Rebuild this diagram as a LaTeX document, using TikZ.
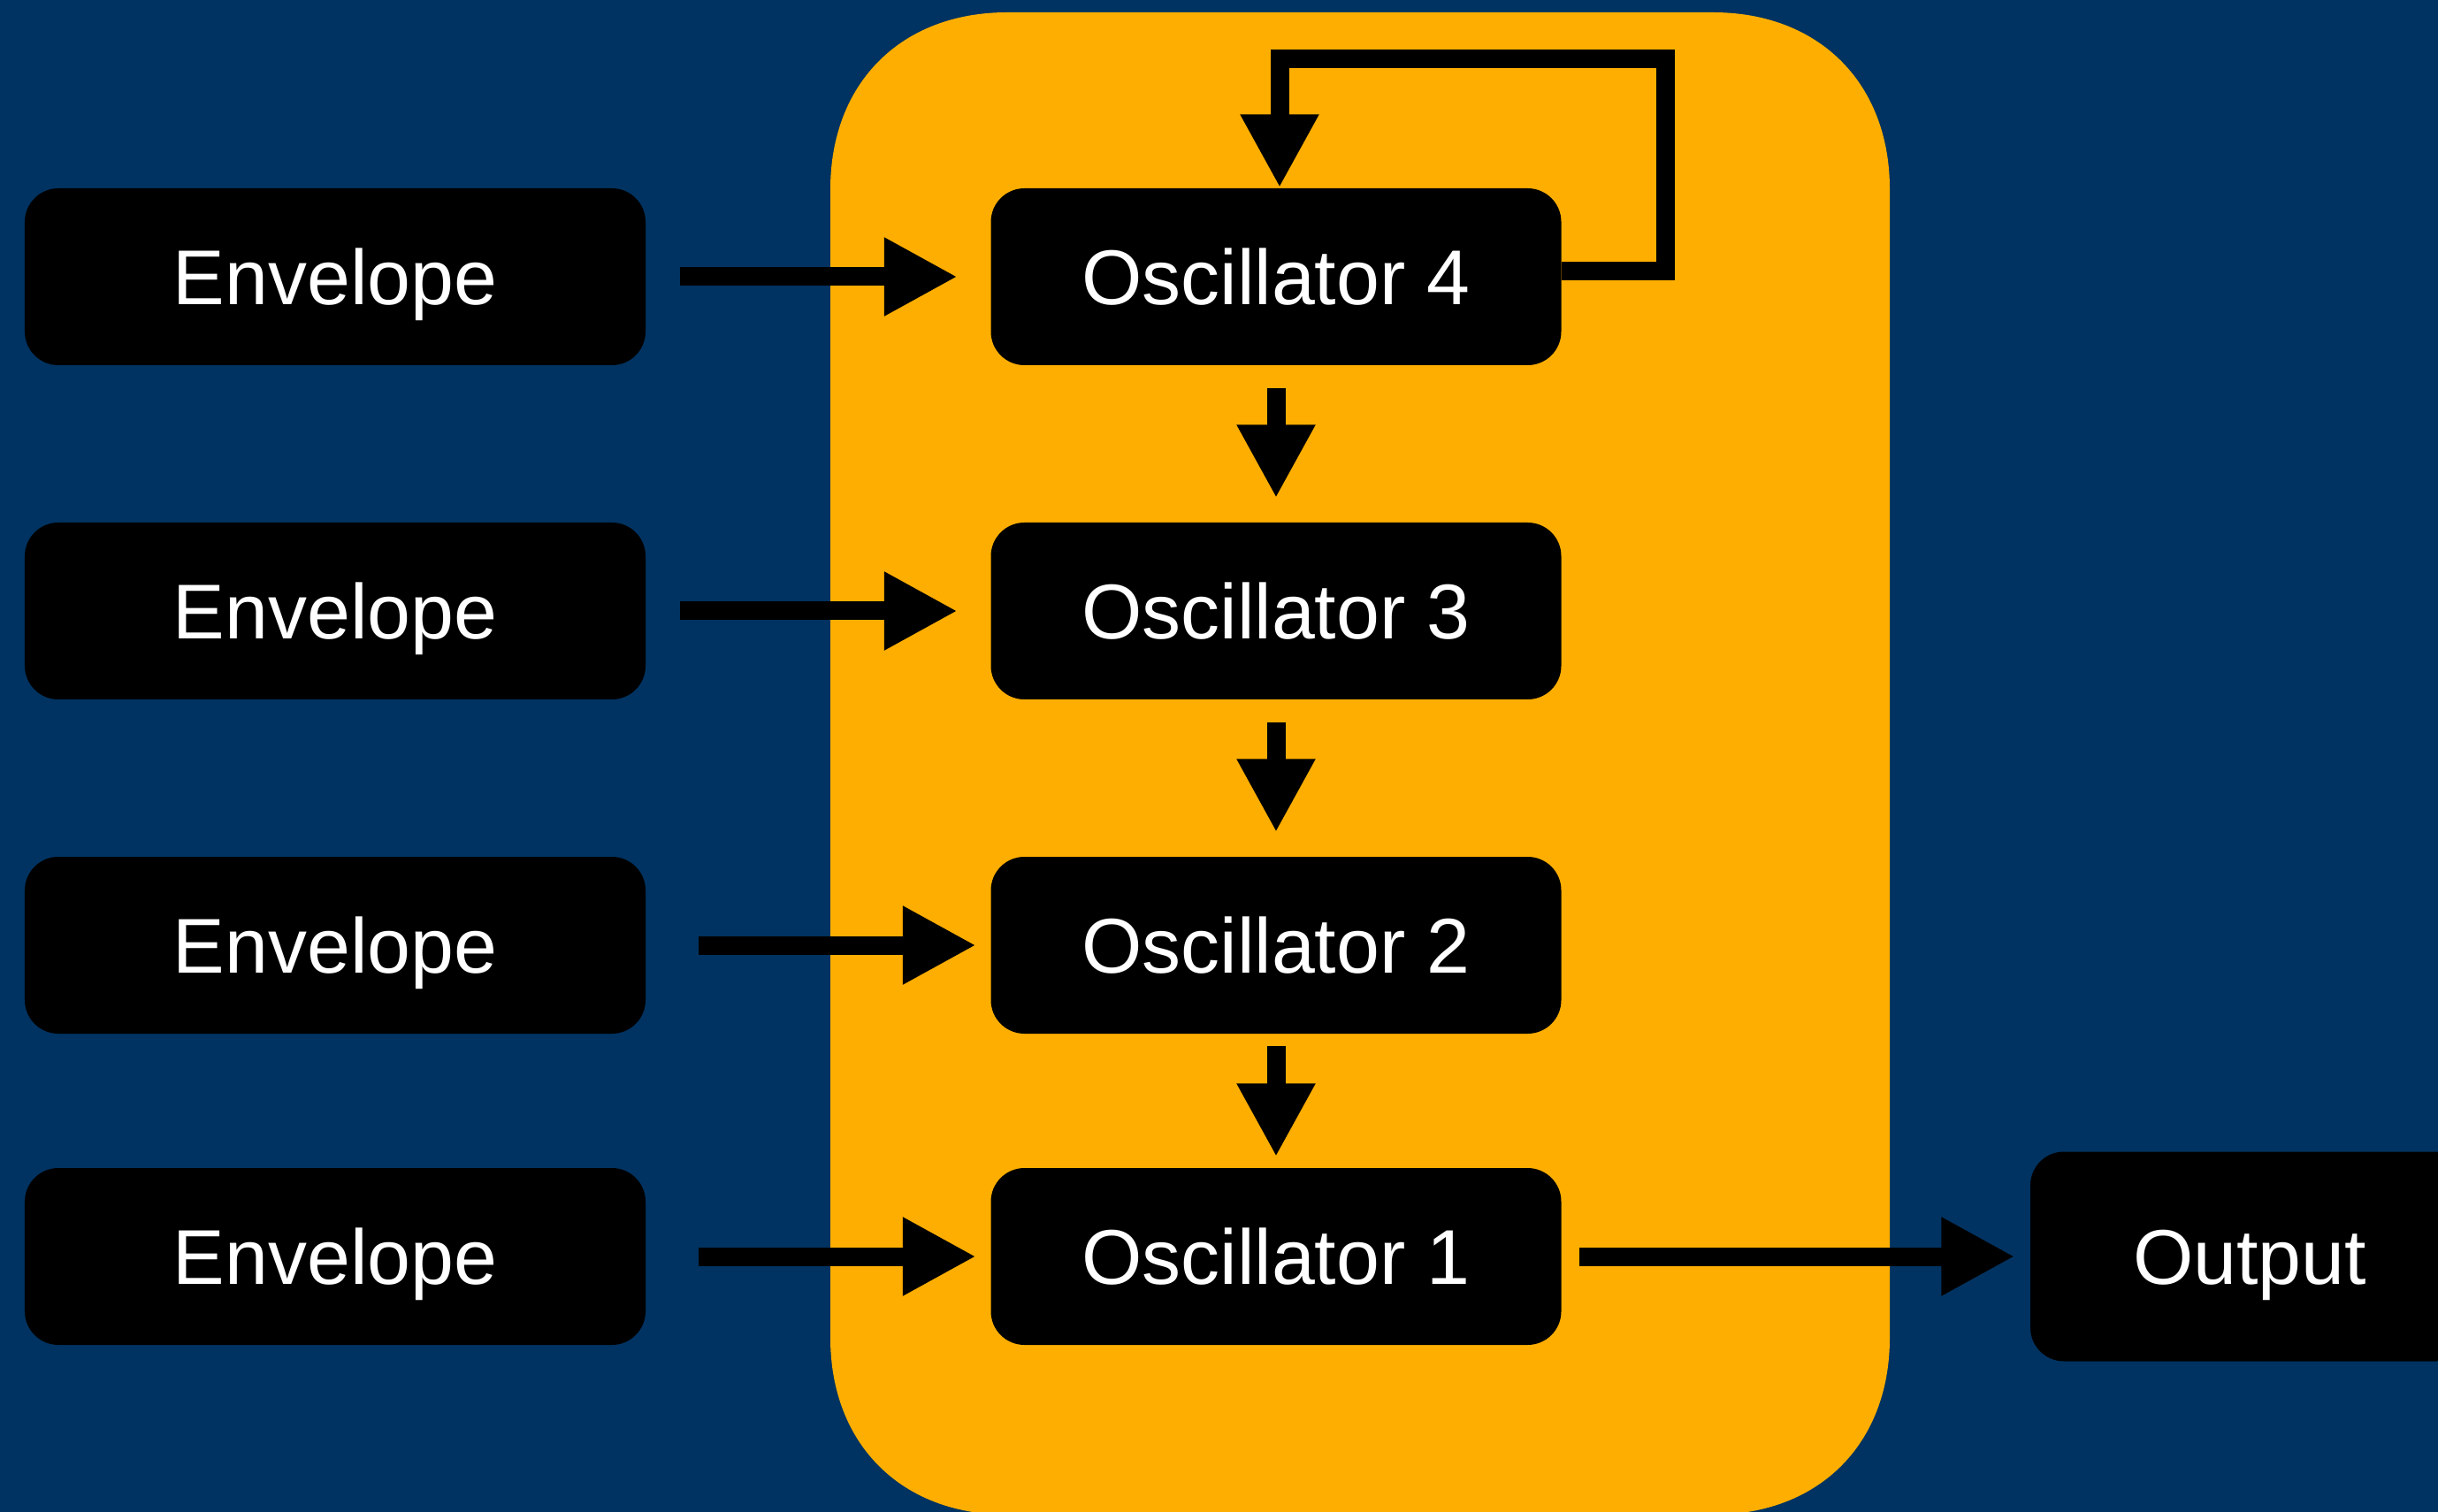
\documentclass[tikz,border=0pt]{standalone}
\usepackage{fontspec}
\setmainfont{Liberation Sans}
\usetikzlibrary{arrows.meta}
\definecolor{navy}{RGB}{0,51,97}
\definecolor{panel}{RGB}{254,174,0}
\begin{document}
\begin{tikzpicture}[
  box/.style={fill=black, rounded corners=0.38cm, text=white,
    font=\fontsize{25}{30}\selectfont, inner sep=0pt,
    text height=0.63cm, text depth=0cm, minimum height=2.0cm},
  env/.style={box, minimum width=7.02cm},
  osc/.style={box, minimum width=6.45cm},
  arr/.style={line width=0.21cm, -{Triangle[width=0.83cm,length=0.83cm]}}
]
\clip (0,0) rectangle (27.57,-17.10);
\fill[navy] (0,0) rectangle (27.57,-17.10);
\fill[panel] (9.39,-2.14) -- (9.39,-15.13)
  .. controls (9.39,-16.33) and (10.19,-17.13) .. (11.39,-17.13)
  -- (19.37,-17.13)
  .. controls (20.57,-17.13) and (21.37,-16.33) .. (21.37,-15.13)
  -- (21.37,-2.14)
  .. controls (21.37,-0.94) and (20.57,-0.14) .. (19.37,-0.14)
  -- (11.39,-0.14)
  .. controls (10.19,-0.14) and (9.39,-0.94) .. (9.39,-2.14) -- cycle;

\node[env] (e1) at (3.79,-3.13) {Envelope};
\node[env] (e2) at (3.79,-6.91) {Envelope};
\node[env] (e3) at (3.79,-10.69) {Envelope};
\node[env] (e4) at (3.79,-14.21) {Envelope};

\node[osc] (o4) at (14.43,-3.13) {Oscillator 4};
\node[osc] (o3) at (14.43,-6.91) {Oscillator 3};
\node[osc] (o2) at (14.43,-10.69) {Oscillator 2};
\node[osc] (o1) at (14.43,-14.21) {Oscillator 1};

\node[box, minimum width=4.96cm, minimum height=2.37cm] (out) at (25.44,-14.21) {Output};

\draw[arr, shorten <=0.38cm, shorten >=0.37cm] (e1) -- (o4);
\draw[arr, shorten <=0.38cm, shorten >=0.37cm] (e2) -- (o3);
\draw[arr, shorten <=0.59cm, shorten >=0.16cm] (e3) -- (o2);
\draw[arr, shorten <=0.59cm, shorten >=0.16cm] (e4) -- (o1);

\draw[arr, shorten <=0.25cm, shorten >=0.27cm] (o4) -- (o3);
\draw[arr, shorten <=0.25cm, shorten >=0.27cm] (o3) -- (o2);
\draw[arr, shorten <=0.13cm, shorten >=0.12cm] (o2) -- (o1);

\draw[arr, shorten <=0.20cm, shorten >=0.17cm] (o1) -- (out);

\coordinate (fb) at (18.83,-0.67);
\draw[arr] ([yshift=0.06cm]o4.east) -| (fb) -| ([xshift=0.04cm]o4.north);
\end{tikzpicture}
\end{document}
